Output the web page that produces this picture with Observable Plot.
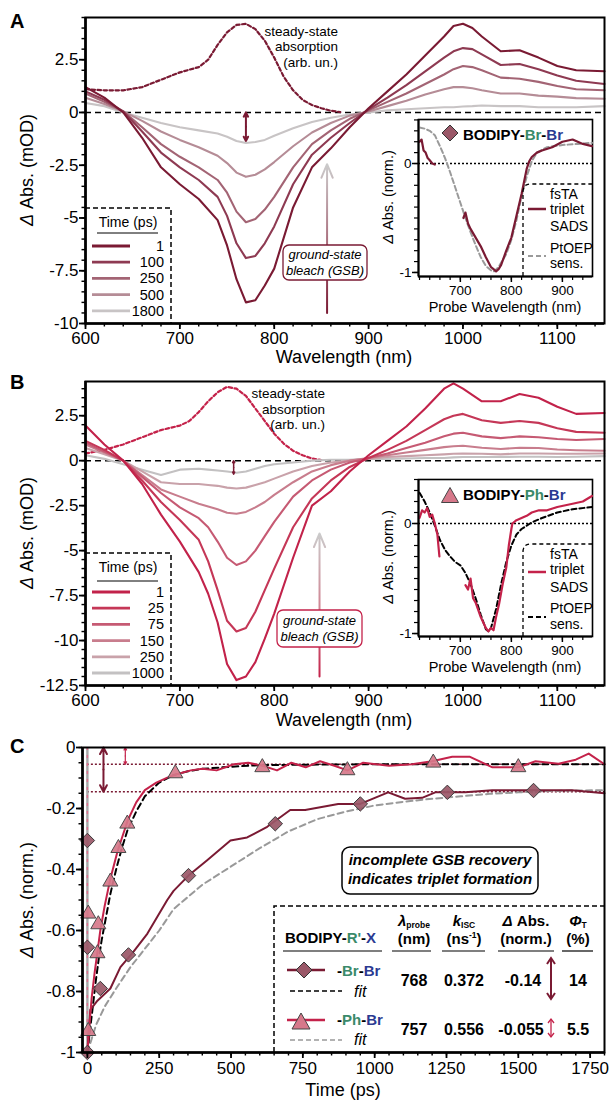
<!DOCTYPE html>
<html><head><meta charset="utf-8">
<script src="https://cdn.jsdelivr.net/npm/d3@7"></script>
<script src="https://cdn.jsdelivr.net/npm/@observablehq/plot@0.6"></script>
<style>
html,body{margin:0;padding:0;background:#fff;}
#root{position:relative;width:611px;height:1101px;overflow:hidden;background:#fff;}
</style></head><body><div id="root"></div>
<script>
// ================= DATA =================
const FONT = "'Liberation Sans', Arial, Helvetica, sans-serif";
const MAROON = "#7a1a33", CRIMSON = "#c4224a", GREEN = "#3a8a6a", BLUE = "#2b3a92";

// ---- Panel A: BODIPY-Br-Br fsTA spectra (mOD) ----
const wlA = [600,620,640,660,680,700,720,740,750,760,770,780,790,800,820,840,860,880,900,920,940,960,980,990,1000,1010,1020,1040,1060,1080,1100,1120,1150];
const timesA = ["1","100","250","500","1800"];
const colorsA = ["#7a1a33","#8e3a52","#a36474","#b58c96","#c8c4c5"];
const specA_1    = [1.2,0.7,0.0,-1.2,-2.6,-3.4,-4.1,-5.1,-6.3,-7.9,-9.0,-8.9,-8.2,-7.4,-4.5,-2.6,-1.7,-0.7,0.2,1.0,1.8,2.7,3.6,4.1,4.2,4.0,3.6,2.9,2.95,2.6,2.2,2.0,1.95];
const specA_100  = [1.0,0.6,0.05,-0.9,-1.9,-2.6,-3.2,-4.0,-4.9,-6.2,-6.9,-6.8,-6.2,-5.4,-3.4,-2.0,-1.2,-0.5,0.15,0.7,1.3,1.95,2.6,2.9,3.05,3.0,2.75,2.25,2.3,2.05,1.75,1.5,1.35];
const specA_250  = [0.9,0.5,0.05,-0.7,-1.5,-2.1,-2.6,-3.2,-3.8,-4.7,-5.2,-5.05,-4.6,-4.0,-2.6,-1.5,-0.85,-0.3,0.1,0.5,0.9,1.35,1.8,2.05,2.2,2.15,2.0,1.65,1.6,1.45,1.25,1.1,1.05];
const specA_500  = [0.7,0.4,0.05,-0.4,-0.9,-1.3,-1.65,-2.05,-2.4,-2.85,-3.05,-2.95,-2.7,-2.35,-1.6,-0.95,-0.5,-0.15,0.05,0.3,0.55,0.85,1.1,1.2,1.2,1.15,1.05,0.9,0.9,0.8,0.75,0.68,0.65];
const specA_1800 = [0.45,0.3,0.0,-0.25,-0.5,-0.7,-0.85,-1.0,-1.15,-1.35,-1.45,-1.4,-1.3,-1.1,-0.75,-0.45,-0.25,-0.1,0.0,0.1,0.15,0.2,0.25,0.25,0.28,0.3,0.33,0.3,0.3,0.25,0.25,0.25,0.3];
const ssWlA = [600,620,640,660,680,700,720,730,740,750,760,770,780,790,800,810,820,830,840,850,860,870];
const ssA   = [1.1,1.05,1.05,1.2,1.55,1.9,2.15,2.5,3.2,3.8,4.15,4.2,3.95,3.4,2.6,1.7,1.05,0.6,0.35,0.2,0.08,0.02];
const arrowA = [{x:770, y1:0, y2:-1.35}];
const gsbArrowA = [{x:856, y1:-9.5, y2:-2.45}];
const yTicksA = [-10,-7.5,-5,-2.5,0,2.5];

// ---- Panel B: BODIPY-Ph-Br fsTA spectra (mOD) ----
const wlB = [600,620,640,660,680,700,720,730,740,750,760,770,780,790,800,820,840,860,880,900,920,940,960,980,990,1000,1020,1040,1060,1080,1100,1120,1150];
const timesB = ["1","25","75","150","250","1000"];
const colorsB = ["#c2224a","#c53757","#c65a73","#c87d8d","#c9a2aa","#c3c1c2"];
const specB_1    = [1.95,0.9,0.0,-1.3,-3.0,-4.5,-6.2,-7.4,-9.0,-11.3,-12.2,-12.0,-11.2,-9.9,-8.5,-5.4,-2.5,-1.7,-0.6,0.3,1.1,1.9,2.9,4.0,4.3,4.0,3.3,3.3,3.7,3.5,3.0,2.6,2.65];
const specB_25   = [1.1,0.6,0.0,-1.1,-2.3,-3.3,-4.4,-5.6,-7.2,-8.9,-9.5,-9.3,-8.4,-7.2,-6.0,-3.7,-2.1,-1.1,-0.35,0.15,0.6,1.1,1.7,2.3,2.5,2.6,2.25,2.1,2.2,2.1,1.8,1.6,1.55];
const specB_75   = [1.0,0.5,0.0,-0.9,-1.8,-2.6,-3.2,-3.7,-4.5,-5.4,-5.8,-5.6,-5.0,-4.2,-3.4,-2.0,-1.1,-0.5,-0.1,0.15,0.4,0.7,1.0,1.35,1.5,1.55,1.35,1.25,1.35,1.3,1.2,1.15,1.2];
const specB_150  = [0.9,0.45,0.0,-0.8,-1.6,-2.0,-2.4,-2.55,-2.7,-2.9,-2.95,-2.85,-2.6,-2.3,-1.9,-1.2,-0.6,-0.25,0.0,0.15,0.3,0.45,0.6,0.75,0.8,0.83,0.72,0.65,0.72,0.7,0.62,0.58,0.55];
const specB_250  = [0.7,0.35,0.0,-0.6,-1.2,-1.3,-1.3,-1.35,-1.4,-1.5,-1.55,-1.5,-1.35,-1.2,-1.0,-0.6,-0.3,-0.1,0.0,0.1,0.2,0.25,0.3,0.35,0.38,0.4,0.38,0.35,0.4,0.4,0.38,0.38,0.4];
const specB_1000 = [0.3,0.1,-0.2,-0.5,-0.8,-0.5,-0.45,-0.5,-0.55,-0.6,-0.67,-0.6,-0.45,-0.3,-0.2,-0.1,0.0,0.05,0.05,0.1,0.1,0.12,0.15,0.15,0.18,0.2,0.2,0.2,0.22,0.22,0.2,0.22,0.25];
const ssWlB = [600,620,640,660,680,700,710,720,730,740,750,760,770,780,790,800,810,820,830,840,850];
const ssB   = [0.4,0.6,0.9,1.3,1.7,1.95,2.2,2.7,3.3,3.8,4.1,4.0,3.6,2.9,2.2,1.5,0.95,0.55,0.3,0.12,0.03];
const arrowB = [{x:757, y1:0, y2:-0.75}];
const gsbArrowB = [{x:848, y1:-12.0, y2:-4.05}];
const yTicksB = [-12.5,-10,-7.5,-5,-2.5,0,2.5];
const xTicksMain = [600,700,800,900,1000,1100];

// ---- Insets (normalized) ----
const insetXTicks = [700,800,900];
const insetYTicks = [-1,0];
const sadsA1wl = [620,624,628,632,636,640,645,650];
const sadsA1   = [0.2,0.22,0.12,0.1,0.05,0.03,0.0,-0.01];
const sadsA2wl = [706,710,715,720,730,740,750,760,765,770,775,780,790,800,810,820,830,835,840,850,860,880,900,920,940,958];
const sadsA2   = [-0.5,-0.45,-0.55,-0.6,-0.68,-0.76,-0.86,-0.95,-0.97,-0.99,-0.97,-0.93,-0.8,-0.68,-0.48,-0.28,-0.05,0.02,0.06,0.1,0.12,0.15,0.2,0.22,0.18,0.16];
const ptoepAwl = [620,630,640,650,660,670,680,690,700,710,720,730,740,750,760,766,775,790,800,810,820,830,840,850,870,900,930,958];
const ptoepA   = [0.33,0.32,0.3,0.26,0.16,0.05,-0.08,-0.22,-0.36,-0.5,-0.63,-0.75,-0.86,-0.94,-0.98,-0.99,-0.95,-0.83,-0.7,-0.52,-0.3,-0.12,0.02,0.1,0.15,0.17,0.18,0.19];
const sadsB1wl = [620,625,630,635,640,645,650,655,659];
const sadsB1   = [0.05,0.12,0.1,0.14,0.06,0.08,0.0,-0.1,-0.3];
const sadsB2wl = [710,715,720,725,730,740,750,755,760,765,770,776,783,790,795,800,802,810,820,830,840,854,870,890,920,940,958];
const sadsB2   = [-0.56,-0.6,-0.5,-0.68,-0.72,-0.85,-0.95,-0.98,-0.95,-0.97,-0.85,-0.73,-0.55,-0.4,-0.2,-0.05,0.0,0.03,0.05,0.07,0.1,0.12,0.12,0.15,0.18,0.2,0.25];
const ptoepBwl = [620,630,640,650,660,670,680,690,700,710,720,730,740,750,755,760,770,780,790,800,810,820,830,840,860,890,920,958];
const ptoepB   = [0.28,0.2,0.1,-0.02,-0.15,-0.24,-0.3,-0.35,-0.38,-0.45,-0.55,-0.68,-0.83,-0.96,-0.98,-0.95,-0.78,-0.55,-0.35,-0.2,-0.1,-0.05,-0.02,0.01,0.05,0.1,0.13,0.15];

// ---- Panel C: GSB kinetics (normalized) ----
const slowT = [0,10,35,80,115,160,209,278,300,352,417,498,556,626,706,758,873,950,1047,1106,1165,1211,1315,1409,1500,1570,1687,1800];
const slowV = [-1,-0.86,-0.83,-0.79,-0.72,-0.67,-0.61,-0.5,-0.47,-0.42,-0.37,-0.305,-0.295,-0.26,-0.205,-0.205,-0.185,-0.185,-0.147,-0.168,-0.165,-0.147,-0.147,-0.14,-0.14,-0.14,-0.14,-0.15];
const fastT = [0,8,15,25,35,45,60,80,105,140,170,200,240,280,320,360,400,450,510,560,610,660,710,760,810,860,905,960,1050,1130,1200,1270,1330,1410,1500,1560,1640,1700,1745,1800];
const fastV = [-1,-0.9,-0.82,-0.74,-0.67,-0.6,-0.52,-0.43,-0.34,-0.24,-0.18,-0.14,-0.115,-0.098,-0.085,-0.075,-0.07,-0.075,-0.055,-0.05,-0.06,-0.075,-0.05,-0.065,-0.045,-0.06,-0.075,-0.05,-0.06,-0.055,-0.045,-0.03,-0.03,-0.065,-0.065,-0.045,-0.053,-0.04,-0.02,-0.055];
const fastFitT = [0,10,20,30,40,50,60,80,100,120,140,170,200,250,300,350,400,500,600,800,1000,1400,1800];
const fastFitV = [-1,-0.92,-0.84,-0.76,-0.69,-0.63,-0.58,-0.48,-0.40,-0.33,-0.27,-0.21,-0.16,-0.115,-0.09,-0.078,-0.07,-0.063,-0.058,-0.056,-0.055,-0.055,-0.055];
const slowFitT = [0,10,30,60,100,150,200,250,300,350,400,500,600,700,800,900,1000,1100,1200,1300,1400,1500,1600,1700,1800];
const slowFitV = [-1,-0.97,-0.91,-0.85,-0.79,-0.72,-0.66,-0.6,-0.53,-0.49,-0.45,-0.39,-0.33,-0.275,-0.235,-0.21,-0.19,-0.178,-0.168,-0.16,-0.152,-0.147,-0.143,-0.141,-0.14];
const diamondT = [0,0,0,45,143,352,654,950,1253,1553];
const diamondV = [-1.0,-0.655,-0.305,-0.79,-0.68,-0.42,-0.25,-0.185,-0.147,-0.141];
const triT = [3,3,35,38,80,108,139,306,609,905,1204,1500];
const triV = [-0.93,-0.545,-0.675,-0.58,-0.44,-0.33,-0.25,-0.085,-0.065,-0.075,-0.05,-0.065];
const plateaus = [-0.055,-0.145];
const arrowC1 = [{x:56, y1:0, y2:-0.145}];
const arrowC2 = [{x:132, y1:0, y2:-0.055}];
const xTicksC = [0,250,500,750,1000,1250,1500,1750];
const yTicksC = [-1,-0.8,-0.6,-0.4,-0.2,0];
const tableRows = [
  {name:["Br","Br"], lam:"768", k:"0.372", dA:"-0.14", phi:"14"},
  {name:["Ph","Br"], lam:"757", k:"0.556", dA:"-0.055", phi:"5.5"}
];

// ================= HELPERS =================
const root = document.getElementById("root");
const NS = "http://www.w3.org/2000/svg";
const zip = (xs, ys) => xs.map((x, i) => ({x, y: ys[i]}));
function place(el, left, top) { el.style.position = "absolute"; el.style.left = left + "px"; el.style.top = top + "px"; root.appendChild(el); return el; }
const baseStyle = sz => ({fontFamily: FONT, fontSize: sz, background: "transparent", overflow: "visible"});

function axisMarks(o) {
  const sw = o.sw || 1.8;
  return [
    Plot.axisX(o.xMinor, {tickSize: o.minorLen, strokeWidth: sw * 0.8, tickFormat: () => "", label: null}),
    Plot.axisX(o.xMajor, {tickSize: o.majorLen, strokeWidth: sw, tickPadding: o.padX, tickFormat: d => String(d), label: null}),
    Plot.axisY(o.yMinor, {tickSize: o.minorLen, strokeWidth: sw * 0.8, tickFormat: () => "", label: null}),
    Plot.axisY(o.yMajor, {tickSize: o.majorLen, strokeWidth: sw, tickPadding: o.padY, tickFormat: d => String(d), label: null})
  ];
}
function dblArrow(data, color, sw, hl) {
  const halves = data.flatMap(d => { const m = (d.y1 + d.y2) / 2; return [{x: d.x, a: m, b: d.y1}, {x: d.x, a: m, b: d.y2}]; });
  return Plot.arrow(halves, {x1: "x", x2: "x", y1: "a", y2: "b", stroke: color, strokeWidth: sw, headLength: hl, headAngle: 55});
}
function gradDefs(id, stops, yBottom, yTop) {
  return (index, scales) => {
    const sy = scales && typeof scales.y === "function" ? scales.y : (v => v);
    const defs = document.createElementNS(NS, "defs");
    const g = document.createElementNS(NS, "linearGradient");
    g.setAttribute("id", id); g.setAttribute("gradientUnits", "userSpaceOnUse");
    g.setAttribute("x1", 0); g.setAttribute("x2", 0);
    g.setAttribute("y1", sy(yBottom)); g.setAttribute("y2", sy(yTop));
    for (const [o, c] of stops) { const s = document.createElementNS(NS, "stop"); s.setAttribute("offset", o); s.setAttribute("stop-color", c); g.appendChild(s); }
    defs.appendChild(g);
    return defs;
  };
}

// ================= PANEL A =================
const seriesA = [specA_1, specA_100, specA_250, specA_500, specA_1800];
place(Plot.plot({
  width: 611, height: 365, marginLeft: 85, marginRight: 7, marginTop: 17, marginBottom: 42,
  x: {domain: [600, 1150], axis: null}, y: {domain: [-10, 4.5], axis: null},
  style: baseStyle("17px"),
  marks: [
    gradDefs("gsbA", [[0, MAROON], [0.45, "#a86a7a"], [1, "#cbcbcb"]], gsbArrowA[0].y1, gsbArrowA[0].y2),
    Plot.ruleY([0], {strokeDasharray: "6,4", strokeWidth: 1.5}),
    Plot.line(zip(ssWlA, ssA), {x: "x", y: "y", stroke: MAROON, strokeWidth: 2.2, strokeDasharray: "3.5,2.5"}),
    ...seriesA.map((v, i) => ({v, c: colorsA[i]})).reverse().map(s => Plot.line(zip(wlA, s.v), {x: "x", y: "y", stroke: s.c, strokeWidth: 2.1})),
    dblArrow(arrowA, MAROON, 2, 7),
    Plot.arrow(gsbArrowA, {x1: "x", x2: "x", y1: "y1", y2: "y2", stroke: "url(#gsbA)", strokeWidth: 2, headLength: 11, headAngle: 45}),
    Plot.frame({strokeWidth: 2}),
    Plot.ruleX([600], {strokeWidth: 2.6}), Plot.ruleY([-10], {strokeWidth: 2.6}),
    ...axisMarks({xMajor: xTicksMain, xMinor: d3.range(600, 1151, 20), yMajor: yTicksA, yMinor: d3.range(-10, 4.51, 0.5), majorLen: 6, minorLen: 3.5, padX: 2, padY: 1})
  ]
}), 0, 0);

// Inset helper
function insetPlot(sadsSegs, ptoep, sadsColor, ptoepColor, ydom) {
  return Plot.plot({
    width: 224, height: 211, marginLeft: 48, marginRight: 2, marginTop: 9, marginBottom: 45,
    x: {domain: [618, 959], axis: null}, y: {domain: ydom, axis: null},
    style: baseStyle("13.5px"),
    marks: [
      Plot.frame({fill: "white", stroke: "black", strokeWidth: 1.6}),
      Plot.ruleY([0], {strokeDasharray: "2,2", strokeWidth: 1.4}),
      Plot.line(ptoep, {x: "x", y: "y", stroke: ptoepColor, strokeWidth: 2, strokeDasharray: "5,3"}),
      ...sadsSegs.map(seg => Plot.line(seg, {x: "x", y: "y", stroke: sadsColor, strokeWidth: 2.2})),
      Plot.ruleX([618], {strokeWidth: 2}), Plot.ruleY([ydom[0]], {strokeWidth: 2}),
      ...axisMarks({xMajor: insetXTicks, xMinor: d3.range(620, 960, 20), yMajor: insetYTicks, yMinor: d3.range(-1, 0.41, 0.1), majorLen: 6, minorLen: 4, sw: 1.5, padX: 3, padY: 1})
    ]
  });
}
place(insetPlot([zip(sadsA1wl, sadsA1), zip(sadsA2wl, sadsA2)], zip(ptoepAwl, ptoepA), MAROON, "#9a9a9a", [-1.037, 0.404]), 370, 110);

// ================= PANEL B =================
const seriesB = [specB_1, specB_25, specB_75, specB_150, specB_250, specB_1000];
place(Plot.plot({
  width: 611, height: 360, marginLeft: 85, marginRight: 7, marginTop: 16, marginBottom: 40,
  x: {domain: [600, 1150], axis: null}, y: {domain: [-12.5, 4.4], axis: null},
  style: baseStyle("17px"),
  marks: [
    gradDefs("gsbB", [[0, CRIMSON], [0.45, "#d0808f"], [1, "#cbcbcb"]], gsbArrowB[0].y1, gsbArrowB[0].y2),
    Plot.ruleY([0], {strokeDasharray: "6,4", strokeWidth: 1.5}),
    Plot.line(zip(ssWlB, ssB), {x: "x", y: "y", stroke: CRIMSON, strokeWidth: 2.2, strokeDasharray: "3.5,2.5"}),
    ...seriesB.map((v, i) => ({v, c: colorsB[i]})).reverse().map(s => Plot.line(zip(wlB, s.v), {x: "x", y: "y", stroke: s.c, strokeWidth: 2.1})),
    dblArrow(arrowB, MAROON, 1.5, 5),
    Plot.arrow(gsbArrowB, {x1: "x", x2: "x", y1: "y1", y2: "y2", stroke: "url(#gsbB)", strokeWidth: 2, headLength: 11, headAngle: 45}),
    Plot.frame({strokeWidth: 2}),
    Plot.ruleX([600], {strokeWidth: 2.6}), Plot.ruleY([-12.5], {strokeWidth: 2.6}),
    ...axisMarks({xMajor: xTicksMain, xMinor: d3.range(600, 1151, 20), yMajor: yTicksB, yMinor: d3.range(-12.5, 4.41, 0.5), majorLen: 6, minorLen: 3.5, padX: 2, padY: 1})
  ]
}), 0, 365);
place(insetPlot([zip(sadsB1wl, sadsB1), zip(sadsB2wl, sadsB2)], zip(ptoepBwl, ptoepB), CRIMSON, "#000", [-1.027, 0.4]), 370, 470);

// ================= PANEL C =================
place(Plot.plot({
  width: 611, height: 376, marginLeft: 82, marginRight: 7, marginTop: 22, marginBottom: 49,
  x: {domain: [-17, 1800], axis: null}, y: {domain: [-1, 0], axis: null},
  style: baseStyle("17px"),
  marks: [
    Plot.ruleY(plateaus, {x1: 0, x2: 1800, stroke: MAROON, strokeDasharray: "2,2", strokeWidth: 1.5}),
    Plot.ruleX([0], {y1: 0, y2: -1, stroke: "#a8a8a8", strokeWidth: 2.4}),
    Plot.ruleX([0], {y1: 0, y2: -1, stroke: "#e0708e", strokeWidth: 1.4, strokeDasharray: "3,5"}),
    Plot.line(zip(slowFitT, slowFitV), {x: "x", y: "y", stroke: "#999", strokeWidth: 2, strokeDasharray: "6,4"}),
    Plot.line(zip(fastFitT, fastFitV), {x: "x", y: "y", stroke: "#000", strokeWidth: 2, strokeDasharray: "6,4"}),
    Plot.line(zip(slowT, slowV), {x: "x", y: "y", stroke: MAROON, strokeWidth: 2}),
    Plot.line(zip(fastT, fastV), {x: "x", y: "y", stroke: CRIMSON, strokeWidth: 2}),
    Plot.dot(zip(triT, triV), {x: "x", y: "y", symbol: "triangle", r: 5.6, fill: "#d6788a", fillOpacity: 0.92, stroke: "#4a4a4a", strokeWidth: 1}),
    Plot.dot(zip(diamondT, diamondV), {x: "x", y: "y", symbol: "diamond2", r: 6.5, fill: "#9a5868", fillOpacity: 0.92, stroke: "#3a3a3a", strokeWidth: 1}),
    dblArrow(arrowC1, MAROON, 2, 8),
    dblArrow(arrowC2, CRIMSON, 1.2, 5),
    Plot.frame({strokeWidth: 2}),
    Plot.ruleX([-17], {strokeWidth: 2.6}), Plot.ruleY([-1], {strokeWidth: 2.6}),
    ...axisMarks({xMajor: xTicksC, xMinor: d3.range(0, 1801, 50), yMajor: yTicksC, yMinor: d3.range(-1, 0.001, 0.05), majorLen: 6, minorLen: 3.5, padX: 3, padY: 1})
  ]
}), 0, 725);

// ================= OVERLAY TEXT / LEGENDS =================
const ov = d3.select(root).append("svg").attr("width", 611).attr("height", 1101)
  .style("position", "absolute").style("left", "0px").style("top", "0px")
  .style("font-family", FONT).style("overflow", "visible");

function T(x, y, parts, o = {}) {
  const t = ov.append("text").attr("x", x).attr("y", y)
    .attr("font-size", o.size || 14).attr("text-anchor", o.anchor || "start")
    .attr("font-weight", o.weight || "normal").attr("font-style", o.style || "normal").attr("fill", "#000");
  if (o.rotate != null) t.attr("transform", `rotate(${o.rotate},${x},${y})`);
  if (o.dy) t.attr("dy", o.dy);
  for (const p of (typeof parts === "string" ? [parts] : parts)) {
    const [s, a] = typeof p === "string" ? [p, {}] : p;
    const ts = t.append("tspan").text(s);
    for (const k in a) ts.attr(k, a[k]);
  }
  return t;
}
function L(x1, y1, x2, y2, color, sw, dash) {
  const l = ov.append("line").attr("x1", x1).attr("y1", y1).attr("x2", x2).attr("y2", y2).attr("stroke", color).attr("stroke-width", sw);
  if (dash) l.attr("stroke-dasharray", dash);
  return l;
}
function P(d, o = {}) {
  return ov.append("path").attr("d", d).attr("fill", o.fill || "none").attr("stroke", o.stroke || "#000")
    .attr("stroke-width", o.sw || 1.5).attr("stroke-dasharray", o.dash || null);
}
const diamondPath = (cx, cy, r) => `M${cx},${cy - r}L${cx + r},${cy}L${cx},${cy + r}L${cx - r},${cy}Z`;
const triPath = (cx, cy, w, h) => `M${cx},${cy - h / 2}L${cx + w / 2},${cy + h / 2}L${cx - w / 2},${cy + h / 2}Z`;
function ovDbl(x, y1, y2, color, sw, hl, hw) {
  L(x, y1, x, y2, color, sw);
  P(`M${x - hw},${y1 + hl}L${x},${y1}L${x + hw},${y1 + hl}M${x - hw},${y2 - hl}L${x},${y2}L${x + hw},${y2 - hl}`, {stroke: color, sw});
}
const ital = {"font-style": "italic"};

// Panel letters
T(10, 28, "A", {size: 20, weight: "bold"});
T(10, 389, "B", {size: 20, weight: "bold"});
T(10, 753, "C", {size: 20, weight: "bold"});

// Axis titles
T(27, 170, [["Δ", ital], " Abs. (mOD)"], {size: 18, anchor: "middle", rotate: -90, dy: "0.35em"});
T(27, 533, [["Δ", ital], " Abs. (mOD)"], {size: 18, anchor: "middle", rotate: -90, dy: "0.35em"});
T(27, 900, [["Δ", ital], " Abs. (norm.)"], {size: 18, anchor: "middle", rotate: -90, dy: "0.35em"});
T(344, 363, "Wavelength (nm)", {size: 18, anchor: "middle"});
T(344, 726, "Wavelength (nm)", {size: 18, anchor: "middle"});
T(343, 1096, "Time (ps)", {size: 18, anchor: "middle"});

// Steady-state labels
["steady-state", "absorption", "(arb. un.)"].forEach((s, i) => T(338, 36 + i * 15.3, s, {size: 13.5, anchor: "end"}));
["steady-state", "absorption", "(arb. un.)"].forEach((s, i) => T(325, 398 + i * 15.5, s, {size: 13.5, anchor: "end"}));

// GSB boxes
ov.append("rect").attr("x", 283).attr("y", 245).attr("width", 84).attr("height", 35).attr("rx", 6).attr("fill", "#fff").attr("stroke", MAROON).attr("stroke-width", 1.3);
T(325, 259, "ground-state", {size: 13, anchor: "middle", style: "italic"});
T(325, 275, "bleach (GSB)", {size: 13, anchor: "middle", style: "italic"});
ov.append("rect").attr("x", 277).attr("y", 610).attr("width", 85).attr("height", 37).attr("rx", 6).attr("fill", "#fff").attr("stroke", CRIMSON).attr("stroke-width", 1.3);
T(319.5, 625, "ground-state", {size: 13, anchor: "middle", style: "italic"});
T(319.5, 641, "bleach (GSB)", {size: 13, anchor: "middle", style: "italic"});

// Time legends
function timeLegend(top, bottom, titleBase, ulY, y0, times, colors) {
  P(`M85,${top}H171V${bottom}`, {dash: "5,3", sw: 1.5});
  T(128, titleBase, "Time (ps)", {size: 14, anchor: "middle"});
  L(97, ulY, 158, ulY, "#000", 1);
  times.forEach((t, i) => {
    const y = y0 + i * 16.2;
    L(92, y, 130, y, colors[i], 2.8);
    T(164, y + 5, t, {size: 14.5, anchor: "end"});
  });
}
timeLegend(208, 323, 227, 233, 246, timesA, colorsA);
timeLegend(553, 685, 572, 581, 592, timesB, colorsB);

// Inset texts
function insetTexts(dy, marker, name, sadsColor, ptoepColor, leg) {
  T(388, 197 + dy, [["Δ", ital], " Abs. (norm.)"], {size: 14.5, anchor: "middle", rotate: -90, dy: "0.35em"});
  T(505, 312 + dy, "Probe Wavelength (nm)", {size: 14.5, anchor: "middle"});
  marker();
  T(463, 140 + dy, [["BODIPY-"], [name[0], {fill: GREEN}], ["-"], [name[1], {fill: BLUE}]], {size: 15, weight: "bold"});
  const top = 184 + leg.dTop;
  P(`M523,${276 + dy}V${top + 8}Q523,${top} 531,${top}H592`, {dash: "4,3", sw: 1.3});
  L(528, leg.sadsY, 546, leg.sadsY, sadsColor, 2.5);
  L(528, leg.ptY, 546, leg.ptY, ptoepColor, 2, "5,3");
  ["fsTA", "triplet", "SADS", "PtOEP", "sens."].forEach((s, i) => T(550, leg.base[i], s, {size: 14}));
}
insetTexts(0, () => P(diamondPath(450, 133, 8), {fill: "#9a5868", stroke: "#333", sw: 1}), ["Br", "Br"], MAROON, "#9a9a9a",
  {dTop: 0, sadsY: 209, ptY: 256, base: [199, 214, 231, 253, 268]});
insetTexts(360, () => P(triPath(450, 495, 17, 15), {fill: "#d6788a", stroke: "#444", sw: 1}), ["Ph", "Br"], CRIMSON, "#000",
  {dTop: 360, sadsY: 572, ptY: 617, base: [559, 574, 592, 613, 629]});

// Panel C annotation box
ov.append("rect").attr("x", 342).attr("y", 847).attr("width", 196).attr("height", 47).attr("rx", 8).attr("fill", "#fff").attr("stroke", "#000").attr("stroke-width", 1.5);
T(440, 865, "incomplete GSB recovery", {size: 15, anchor: "middle", weight: "bold", style: "italic"});
T(440, 884, "indicates triplet formation", {size: 15, anchor: "middle", weight: "bold", style: "italic"});

// Panel C table
P("M274,1052V906H604", {dash: "5,3", sw: 1.5});
T(285, 943, [["BODIPY-"], ["R'", {fill: GREEN}], ["-"], ["X", {fill: BLUE}]], {size: 15, weight: "bold"});
L(283, 951, 382, 951, "#000", 1.2);
const HB = {size: 15, weight: "bold", anchor: "middle"};
T(414, 926, [["λ", ital], ["probe", {"font-size": 8.5, dy: 2}]], HB);
T(414, 944, "(nm)", HB);
T(464, 926, [["k", ital], ["ISC", {"font-size": 8.5, dy: 2}]], HB);
T(464, 944, [["(ns"], ["-1", {"font-size": 8.5, dy: -6}], [")", {dy: 6}]], HB);
T(526, 926, [["Δ", ital], [" Abs."]], HB);
T(526, 944, "(norm.)", HB);
T(578, 926, [["Φ", ital], ["T", {"font-size": 8.5, dy: 2}]], HB);
T(578, 944, "(%)", HB);
[[392, 431], [442, 485], [498, 554], [562, 593]].forEach(([a, b]) => L(a, 951, b, 951, "#000", 1.2));

// rows
L(287, 970, 325, 970, MAROON, 2.5);
P(diamondPath(304, 970, 8), {fill: "#9a5868", stroke: "#333", sw: 1});
L(290, 991, 342, 991, "#000", 1.5, "5,3");
L(287, 1020, 325, 1020, CRIMSON, 2.5);
P(triPath(301, 1021, 18, 16), {fill: "#d6788a", stroke: "#444", sw: 1});
L(290, 1040, 342, 1040, "#999", 1.5, "5,3");
const VB = {size: 16, weight: "bold", anchor: "middle"};
tableRows.forEach((r, i) => {
  const nb = i === 0 ? 976 : 1025, fb = i === 0 ? 997 : 1045, vb = i === 0 ? 986 : 1035;
  T(337, nb, [["-"], [r.name[0], {fill: GREEN}], ["-"], [r.name[1], {fill: BLUE}]], {size: 15, weight: "bold"});
  T(354, fb, "fit", {size: 16, style: "italic"});
  T(414, vb, r.lam, VB);
  T(464, vb, r.k, VB);
  T(i === 0 ? 523 : 521, vb, r.dA, VB);
  T(578, vb, r.phi, VB);
});
ovDbl(551, 958, 999, MAROON, 2, 6, 4);
ovDbl(551, 1019, 1037, CRIMSON, 1.3, 4, 3);
</script></body></html>
